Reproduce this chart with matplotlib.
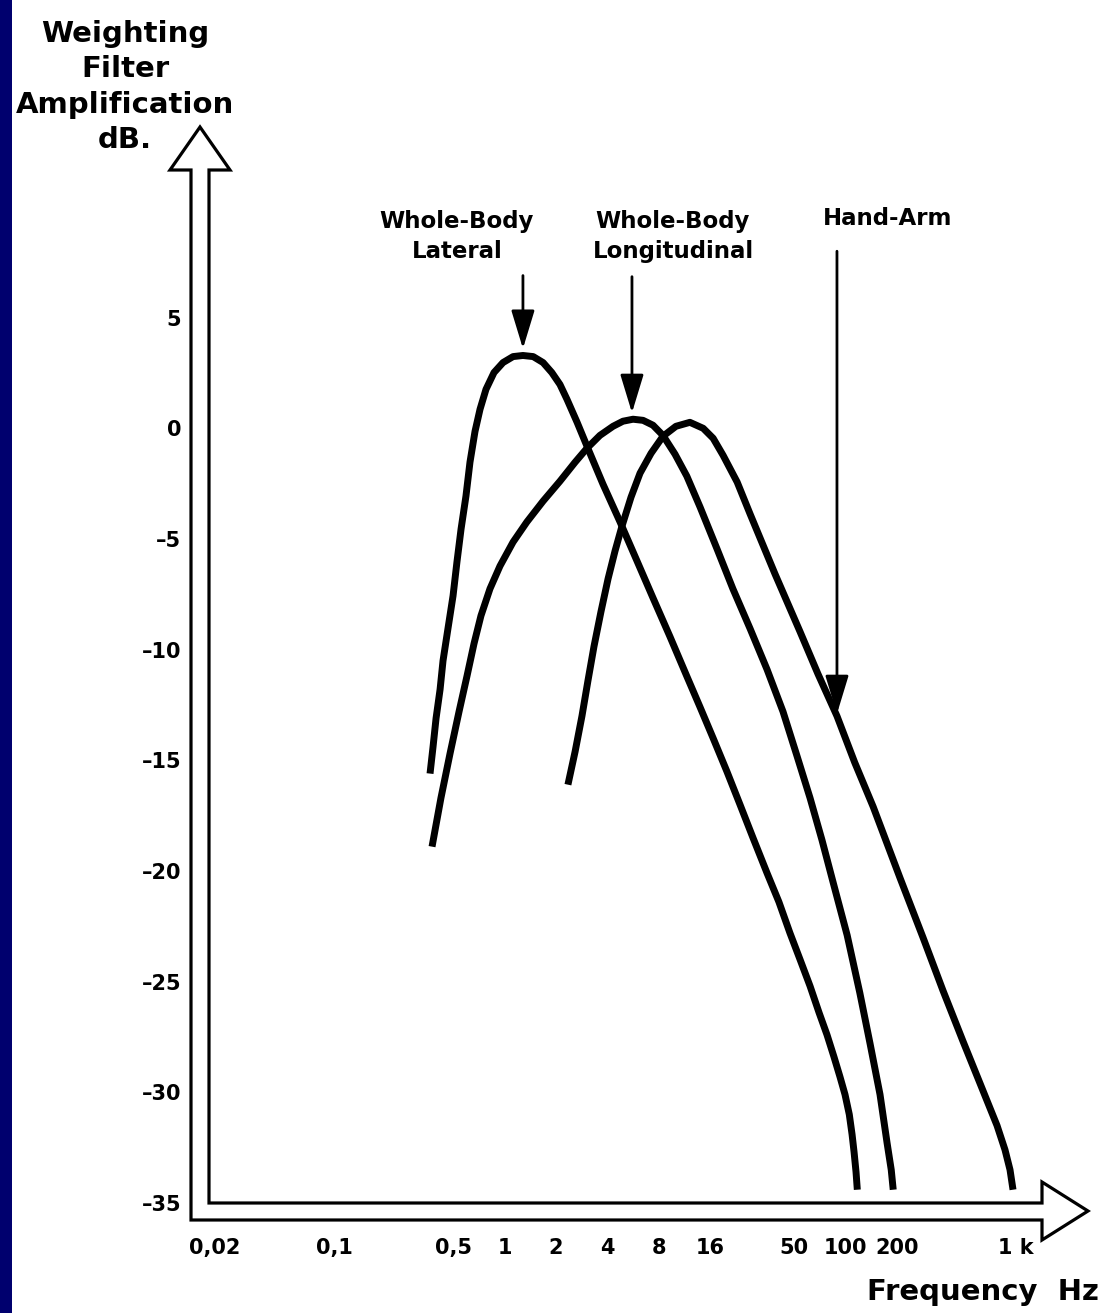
import matplotlib
matplotlib.use("Agg")
import matplotlib.pyplot as plt
from matplotlib.patches import Polygon, Rectangle
from matplotlib.ticker import NullLocator

# frequency (Hz) and amplification (dB)
lateral_f = [0.365, 0.380, 0.396, 0.418, 0.435, 0.465, 0.498, 0.525, 0.555, 0.593,
             0.626, 0.670, 0.717, 0.777, 0.866, 0.978, 1.12, 1.28, 1.47, 1.68,
             1.89, 2.11, 2.32, 2.66, 3.04, 3.77, 4.75, 5.97, 7.41, 9.32,
             11.7, 14.0, 16.7, 20.1, 24.0, 28.6, 34.6, 40.6, 47.1, 54.0,
             61.8, 69.8, 77.7, 85.4, 92.6, 99.1, 105, 109, 112, 115, 117]
lateral_db = [-15.6, -14.4, -13.1, -11.8, -10.5, -9.05, -7.57, -6.04, -4.55, -3.06,
              -1.53, -0.14, 0.86, 1.76, 2.52, 2.97, 3.24, 3.29, 3.24, 2.97,
              2.52, 1.98, 1.31, 0.27, -0.81, -2.52, -4.23, -5.99, -7.66, -9.41,
              -11.2, -12.6, -14.0, -15.5, -17.0, -18.5, -20.1, -21.4, -22.8, -24.0,
              -25.2, -26.4, -27.4, -28.4, -29.3, -30.1, -31.0, -31.9, -32.7, -33.6, -34.4]

longit_f = [0.375, 0.423, 0.478, 0.540, 0.601, 0.661, 0.726, 0.820, 0.939, 1.12,
            1.35, 1.68, 2.11, 2.59, 3.04, 3.62, 4.32, 4.94, 5.66, 6.48,
            7.41, 8.48, 9.98, 11.7, 14.0, 17.6, 21.8, 27.5, 34.6, 42.9,
            51.8, 61.8, 72.6, 84.3, 102, 121, 139, 159, 175, 185, 190]
longit_db = [-18.9, -16.7, -14.7, -12.8, -11.2, -9.73, -8.47, -7.25, -6.22, -5.14,
             -4.23, -3.29, -2.39, -1.53, -0.90, -0.32, 0.09, 0.32, 0.41, 0.36,
             0.14, -0.32, -1.17, -2.16, -3.56, -5.45, -7.25, -9.05, -10.9, -12.8,
             -14.8, -16.7, -18.6, -20.5, -22.9, -25.5, -27.8, -30.1, -32.3, -33.5, -34.4]

handarm_f = [2.35, 2.59, 2.84, 3.08, 3.34, 3.67, 4.04, 4.44, 4.88, 5.51,
             6.22, 7.22, 8.48, 10.1, 12.2, 14.6, 16.7, 19.1, 23.1, 27.5,
             38.5, 54.0, 68.8, 88.9, 113, 145, 208, 284, 372, 488,
             614, 772, 860, 920, 958]
handarm_db = [-16.1, -14.6, -13.0, -11.4, -9.86, -8.29, -6.80, -5.54, -4.41, -3.11,
              -2.03, -1.13, -0.36, 0.09, 0.27, 0.00, -0.45, -1.22, -2.43, -3.87,
              -6.58, -9.19, -11.1, -13.0, -15.1, -17.1, -20.3, -23.0, -25.4, -27.7,
              -29.6, -31.5, -32.6, -33.5, -34.4]

x_ticks = [0.02, 0.1, 0.5, 1, 2, 4, 8, 16, 50, 100, 200, 1000]
x_labels = ["0,02", "0,1", "0,5", "1", "2", "4", "8", "16", "50", "100", "200", "1 k"]
y_ticks = [5, 0, -5, -10, -15, -20, -25, -30, -35]
y_labels = ["5", "0", "\u20135", "\u201310", "\u201315", "\u201320", "\u201325", "\u201330", "\u201335"]

# curve labels: (text, arrow x, arrow tip, arrow tail, text x, text y)
labels = [("Whole-Body\nLateral", 1.28, 3.6, 6.9, 0.525, 8.65),
          ("Whole-Body\nLongitudinal", 5.58, 0.7, 6.85, 9.71, 8.65),
          ("Hand-Arm", 88.9, -12.9, 8.0, 175, 9.5)]

W, H = 1103, 1313


def fx(x):
    return x / W


def fy(y):
    return 1 - y / H


fig = plt.figure(figsize=(W / 100, H / 100), dpi=100)
fig.patch.set_facecolor("white")

# dark strip on the left edge
fig.patches.append(Rectangle((0, 0), fx(12), 1, transform=fig.transFigure,
                             facecolor="#00006e", edgecolor="none"))

# hollow L-shaped axis arrows
frame = [(209, 1203), (209, 170), (230, 170), (200, 127), (170, 170), (191, 170),
         (191, 1220), (1042, 1220), (1042, 1240), (1088, 1211), (1042, 1182),
         (1042, 1203)]
fig.patches.append(Polygon([(fx(a), fy(b)) for a, b in frame], closed=True,
                           transform=fig.transFigure, facecolor="white",
                           edgecolor="black", lw=2.3, zorder=1))

ax = fig.add_axes([fx(209), fy(1203), fx(1042) - fx(209), fy(170) - fy(1203)])
ax.patch.set_alpha(0)
ax.set_xscale("log")
ax.set_xlim(0.01845, 1417)
ax.set_ylim(-34.86, 11.67)
for s in ax.spines.values():
    s.set_visible(False)

for f, db in [(lateral_f, lateral_db), (longit_f, longit_db), (handarm_f, handarm_db)]:
    ax.plot(f, db, color="black", lw=5, solid_capstyle="butt", solid_joinstyle="round")

ax.set_xticks(x_ticks, x_labels)
ax.xaxis.set_minor_locator(NullLocator())
ax.set_yticks(y_ticks, y_labels)
ax.tick_params(axis="x", length=0, pad=25, labelsize=15)
ax.tick_params(axis="y", length=0, pad=20, labelsize=15)
for t in ax.get_xticklabels() + ax.get_yticklabels():
    t.set_fontweight("bold")

for text, xa, tip, tail, xt, yt in labels:
    ax.annotate("", xy=(xa, tip), xytext=(xa, tail),
                arrowprops=dict(arrowstyle="-|>,head_length=1.25,head_width=0.38",
                                mutation_scale=19, lw=2, color="black",
                                shrinkA=0, shrinkB=0))
    ax.text(xt, yt, text, ha="center", va="center", fontsize=16.5,
            fontweight="bold", linespacing=1.4)

fig.text(fx(125), fy(87), "Weighting\nFilter\nAmplification\ndB.", ha="center",
         va="center", fontsize=21, fontweight="bold", linespacing=1.33)
fig.text(fx(1099), fy(1292), "Frequency  Hz", ha="right", va="center",
         fontsize=21, fontweight="bold")

fig.savefig("out.png", dpi=100)
